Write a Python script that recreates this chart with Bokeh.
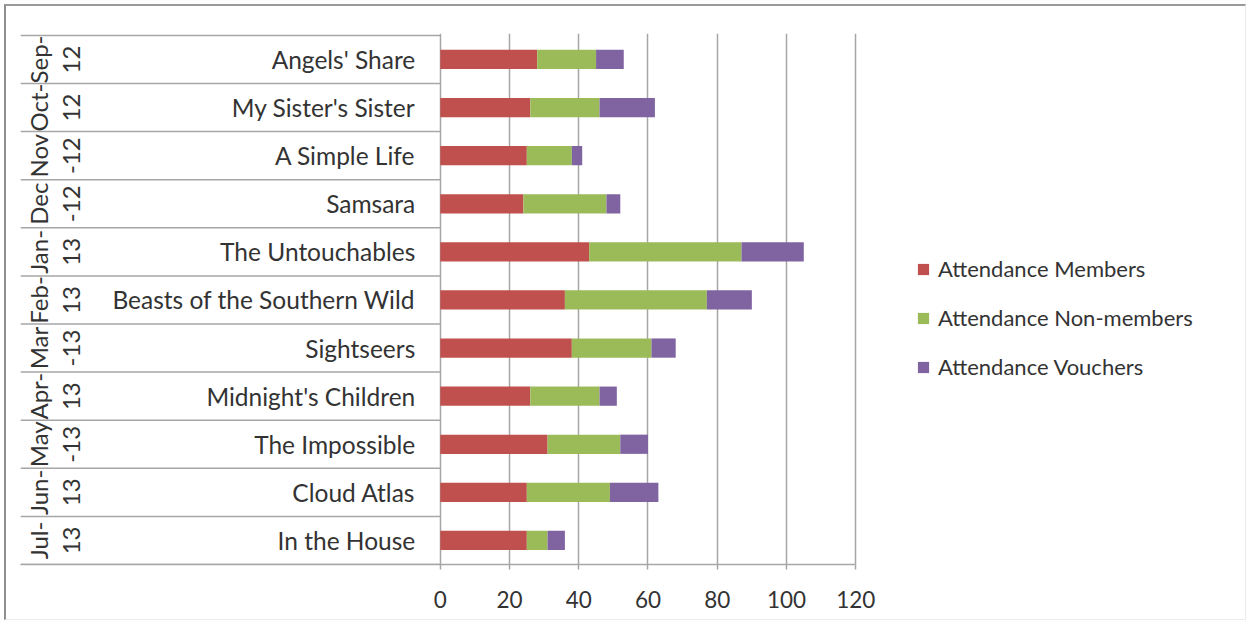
import math
from bokeh.plotting import figure
from bokeh.models import ColumnDataSource, Range1d, FixedTicker
from bokeh.core.properties import value
from bokeh.embed import file_html
from bokeh.resources import INLINE

# ---- data (top to bottom as shown) ----
films = ["Angels' Share", "My Sister's Sister", "A Simple Life", "Samsara",
         "The Untouchables", "Beasts of the Southern Wild", "Sightseers",
         "Midnight's Children", "The Impossible", "Cloud Atlas", "In the House"]
months = ["Sep-12", "Oct-12", "Nov-12", "Dec-12", "Jan-13", "Feb-13",
          "Mar-13", "Apr-13", "May-13", "Jun-13", "Jul-13"]
month_line1 = ["Sep-", "Oct-", "Nov", "Dec", "Jan-", "Feb-", "Mar", "Apr-", "May", "Jun-", "Jul-"]
month_line2 = ["12", "12", "-12", "-12", "13", "13", "-13", "13", "-13", "13", "13"]
members = [28, 26, 25, 24, 43, 36, 38, 26, 31, 25, 25]
non_members = [17, 20, 13, 24, 44, 41, 23, 20, 21, 24, 6]
vouchers = [8, 16, 3, 4, 18, 13, 7, 5, 8, 14, 5]
series_names = ["Attendance Members", "Attendance Non-members", "Attendance Vouchers"]
x_ticks = [0, 20, 40, 60, 80, 100, 120]

colors = ["#C0504D", "#9BBB59", "#8064A2"]
FONT = "Lato"
TXT = "#333333"
GRID = "#a6a6a6"

n = len(films)
px_per_unit = 415.7 / 120.0
x_start = -420.0 / px_per_unit
x_end = 120 + 383.0 / px_per_unit

ypos = [n - i - 0.5 for i in range(n)]
source = ColumnDataSource(dict(y=ypos, films=films, m1=month_line1, m2=month_line2,
                               members=members, non=non_members, vouch=vouchers))

p = figure(width=1242, height=616, x_range=Range1d(x_start, x_end),
           y_range=Range1d(0, n + 0.04), output_backend="svg",
           toolbar_location=None, y_axis_location=None,
           min_border_left=14, min_border_right=10, min_border_top=27,
           min_border_bottom=58)
p.styles = {"margin-left": "4px", "margin-top": "4px",
            "border-left": "2px solid #8f8f8f", "border-top": "2px solid #9a9a9a",
            "border-right": "1px solid #ececec", "border-bottom": "1px solid #ececec"}
p.outline_line_color = None
p.background_fill_color = "white"
p.border_fill_color = "white"

p.ygrid.visible = False
p.xgrid.ticker = FixedTicker(ticks=x_ticks)
p.xgrid.grid_line_color = GRID
p.xgrid.grid_line_width = 1.5

ax = p.xaxis[0]
ax.ticker = FixedTicker(ticks=x_ticks)
ax.bounds = (x_start, 120)
ax.axis_line_color = GRID
ax.axis_line_width = 1.5
ax.major_tick_line_color = GRID
ax.major_tick_line_width = 1.5
ax.major_tick_in = 0
ax.major_tick_out = 5
ax.minor_tick_line_color = None
ax.major_label_text_font = FONT
ax.major_label_text_font_size = "22.5px"
ax.major_label_text_color = TXT
ax.major_label_standoff = 21

# separators in the category-label area
bounds = list(range(n + 1))
p.segment(x0=[x_start] * len(bounds), x1=[0] * len(bounds), y0=bounds, y1=bounds,
          line_color=GRID, line_width=1.5)

# stacked bars
p.hbar_stack(["members", "non", "vouch"], y="y", height=0.4, color=colors,
             source=source, legend_label=series_names, line_width=0)

# film names
p.text(x=0, y="y", text="films", source=source, x_offset=-25,
       text_align="right", text_baseline="middle", text_font=value(FONT),
       text_font_size="24.5px", text_color=TXT)
# month labels (rotated, two lines)
p.text(x=x_start, y="y", text="m1", source=source, x_offset=18, angle=math.pi / 2,
       text_align="center", text_baseline="middle", text_font=value(FONT),
       text_font_size="24px", text_color=TXT)
p.text(x=x_start, y="y", text="m2", source=source, x_offset=51, angle=math.pi / 2,
       text_align="center", text_baseline="middle", text_font=value(FONT),
       text_font_size="24px", text_color=TXT)

lg = p.legend[0]
lg.location = (896, 184)
lg.padding = 0
lg.margin = 0
lg.border_line_color = None
lg.background_fill_alpha = 0
lg.glyph_width = 14
lg.glyph_height = 14
lg.label_standoff = 8
lg.label_height = 26
lg.spacing = 22
lg.label_text_font = FONT
lg.label_text_font_size = "22px"
lg.label_text_color = TXT

open("out.html", "w").write(file_html(p, INLINE))
